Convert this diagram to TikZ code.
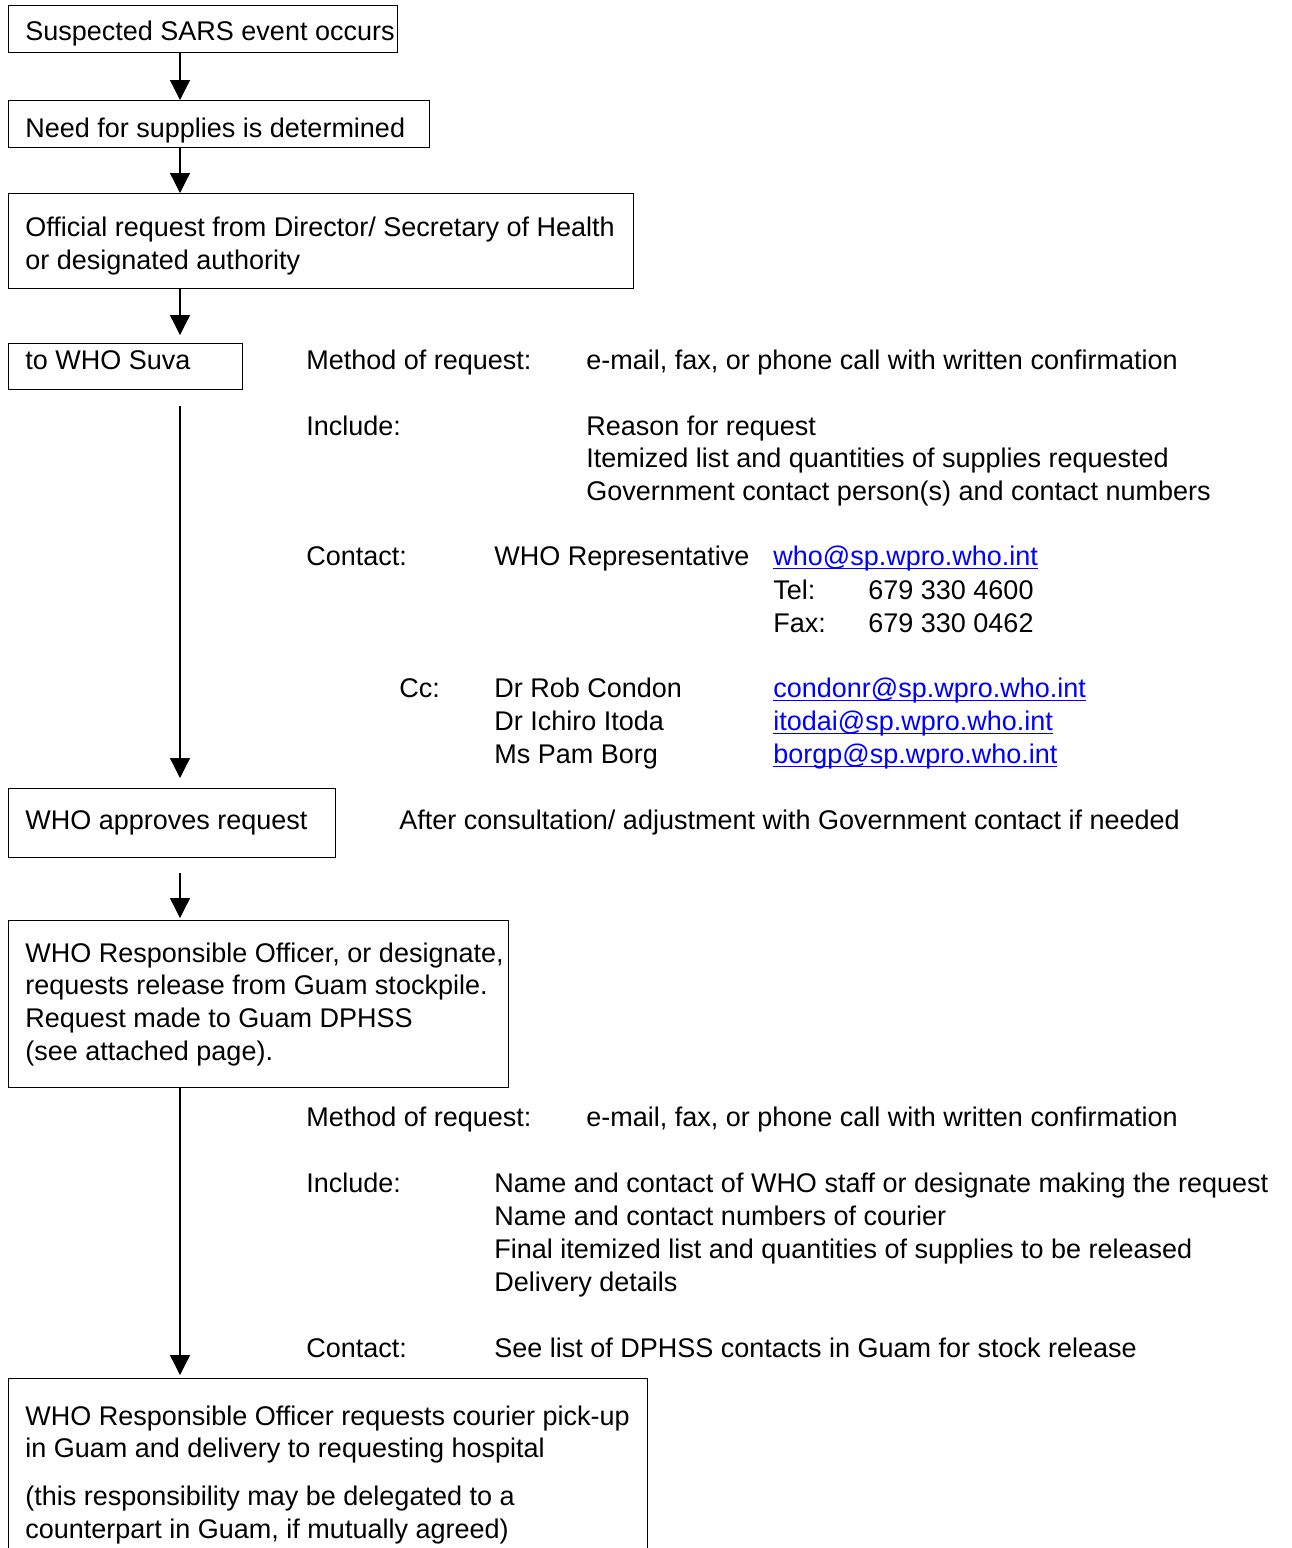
\documentclass[tikz,border=0pt]{standalone}
\usepackage{fontspec}
\setmainfont{Liberation Sans}
\usetikzlibrary{arrows.meta}

\newcommand{\maillink}[1]{\textcolor{blue}{\setbox0\hbox{#1}\rlap{\rule[-2.2pt]{\wd0}{0.9pt}}\box0}}

\begin{document}
\begin{tikzpicture}[x=0.5pt, y=-0.5pt,
    every node/.style={inner sep=0pt, anchor=base west, font=\fontsize{13.5}{16.3}\selectfont},
    box/.style={draw, line width=0.65pt, anchor=north west},
    flow/.style={line width=0.65pt, -{Triangle[width=10pt,length=10pt]}}]

        \useasboundingbox (0, 0) rectangle (1291, 1548);
        \coordinate (sp) at (180, 0);

        % boxes down the left side
        \node (n1) at (8, 5) [box, minimum width=194.5pt, minimum height=23.5pt] {};
        \node (n2) at (8, 100) [box, minimum width=210.5pt, minimum height=23.5pt] {};
        \node (n3) at (8, 193) [box, minimum width=312.5pt, minimum height=47.5pt] {};
        \node (n4) at (8, 343) [box, minimum width=117pt, minimum height=23pt] {};
        \node (n5) at (8, 788) [box, minimum width=163.5pt, minimum height=34.5pt] {};
        \node (n6) at (8, 920) [box, minimum width=250pt, minimum height=83.5pt] {};
        \node (n7) at (8, 1378) [box, minimum width=319.5pt, minimum height=95pt] {};

        % box texts (multi-line ones sit on their last baseline)
        \node (t1) at (25, 40) {Suspected SARS event occurs};
        \node (t2) at (25, 137) {Need for supplies is determined};
        \node (t3) at (25, 269) [align=left] {Official request from Director/ Secretary of Health\\or designated authority};
        \node (t4) at (25, 369) {to WHO Suva};
        \node (t5) at (25, 829) {WHO approves request};
        \node (t6) at (25, 1060) [align=left] {WHO Responsible Officer, or designate,\\requests release from Guam stockpile.\\Request made to Guam DPHSS\\(see attached page).};
        \node (t7) at (25, 1538) [align=left] {WHO Responsible Officer requests courier pick-up\\in Guam and delivery to requesting hospital\\[7.5pt](this responsibility may be delegated to a\\counterpart in Guam, if mutually agreed)};

        % arrows
        \draw [flow] (n1.south -| sp) -- (n2.north -| sp);
        \draw [flow] (n2.south -| sp) -- (n3.north -| sp);
        \draw [flow, shorten >=4pt] (n3.south -| sp) -- (n4.north -| sp);
        \draw [flow, shorten <=8pt, shorten >=5pt] (n4.south -| sp) -- (n5.north -| sp);
        \draw [flow, shorten <=7.5pt, shorten >=1pt] (n5.south -| sp) -- (n6.north -| sp);
        \draw [flow, shorten >=1.5pt] (n6.south -| sp) -- (n7.north -| sp);

        % request to WHO Suva
        \node (m1) at (306, 369) {Method of request:};
        \node (m2) at (586, 369) {e-mail, fax, or phone call with written confirmation};
        \node (i1) at (306, 435) {Include:};
        \foreach \txt [count=\k from 0] in {Reason for request,
            Itemized list and quantities of supplies requested,
            Government contact person(s) and contact numbers}
            \node (i1\k) at (586, 435 + 32.6*\k) {\txt};

        \node (c1) at (306, 565) {Contact:};
        \node (c2) at (494, 565) {WHO Representative};
        \node (c3) at (773, 565) {\maillink{who@sp.wpro.who.int}};
        \node (c4) at (773, 599) {Tel:};
        \node (c5) at (868, 599) {679 330 4600};
        \node (c6) at (773, 632) {Fax:};
        \node (c7) at (868, 632) {679 330 0462};

        \node (cc) at (399, 697) {Cc:};
        \foreach \who/\mail [count=\k from 0] in {Dr Rob Condon/condonr, Dr Ichiro Itoda/itodai, Ms Pam Borg/borgp} {
            \node (cn\k) at (494, 697 + 33*\k) {\who};
            \node (cm\k) at (773, 697 + 33*\k) {\maillink{\mail @sp.wpro.who.int}};
        }

        \node (a1) at (399, 829) {After consultation/ adjustment with Government contact if needed};

        % request to Guam
        \node (m3) at (306, 1126) {Method of request:};
        \node (m4) at (586, 1126) {e-mail, fax, or phone call with written confirmation};
        \node (i2) at (306, 1192) {Include:};
        \foreach \txt [count=\k from 0] in {Name and contact of WHO staff or designate making the request,
            Name and contact numbers of courier,
            Final itemized list and quantities of supplies to be released,
            Delivery details}
            \node (i2\k) at (494, 1192 + 33*\k) {\txt};
        \node (c8) at (306, 1357) {Contact:};
        \node (c9) at (494, 1357) {See list of DPHSS contacts in Guam for stock release};

    \end{tikzpicture}
\end{document}
